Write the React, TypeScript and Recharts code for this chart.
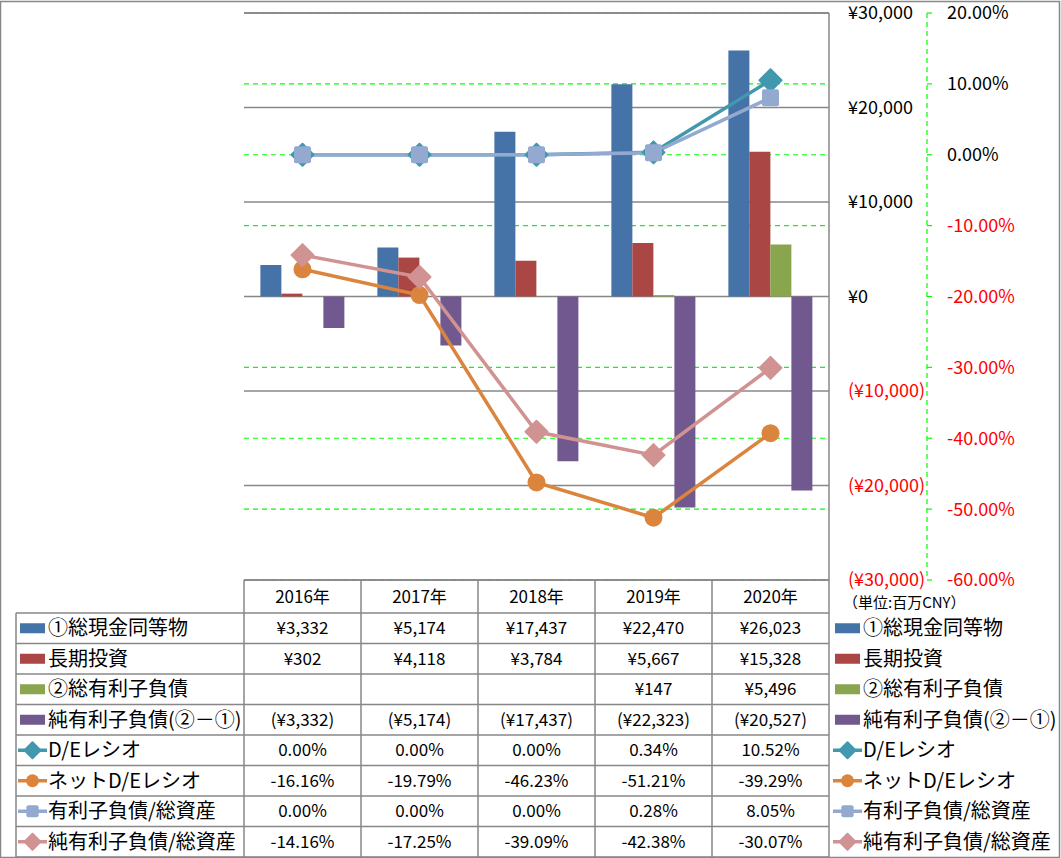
import React from 'react';
import { ComposedChart, Bar, Line, XAxis, YAxis, CartesianGrid } from 'recharts';

const categories = ['2016年', '2017年', '2018年', '2019年', '2020年'];
const cash = [3332, 5174, 17437, 22470, 26023];
const ltInvest = [302, 4118, 3784, 5667, 15328];
const debt: (number | null)[] = [null, null, null, 147, 5496];
const netDebt = [-3332, -5174, -17437, -22323, -20527];
const deRatio = [0, 0, 0, 0.34, 10.52];
const netDeRatio = [-16.16, -19.79, -46.23, -51.21, -39.29];
const debtToAssets = [0, 0, 0, 0.28, 8.05];
const netDebtToAssets = [-14.16, -17.25, -39.09, -42.38, -30.07];

const yenTicks = [30000, 20000, 10000, 0, -10000, -20000, -30000];
const pctTicks = [20, 10, 0, -10, -20, -30, -40, -50, -60];

const seriesNames = [
  '①総現金同等物',
  '長期投資',
  '②総有利子負債',
  '純有利子負債(②－①)',
  'D/Eレシオ',
  'ネットD/Eレシオ',
  '有利子負債/総資産',
  '純有利子負債/総資産',
];
const unitLabel = '（単位:百万CNY）';

const COLORS = ['#4572A7', '#AA4643', '#89A54E', '#71588F', '#4198AF', '#DB843D', '#93A9CF', '#D19392'];
const MARKERS = ['diamond', 'circle', 'square', 'diamond'];
const GRAY = '#878787';
const FONT = '"Noto Sans CJK JP", "Noto Sans", sans-serif';

const data = categories.map((c, i) => ({
  cat: c,
  cash: cash[i],
  lt: ltInvest[i],
  debt: debt[i],
  net: netDebt[i],
  de: deRatio[i],
  nde: netDeRatio[i],
  dta: debtToAssets[i],
  ndta: netDebtToAssets[i],
}));

const fmtYen = (v: number | null) => {
  if (v === null || v === undefined) return '';
  const s = Math.abs(v).toLocaleString('en-US');
  return v < 0 ? `(¥${s})` : `¥${s}`;
};
const fmtPct = (v: number) => `${v.toFixed(2)}%`;

const tableRows: string[][] = [
  cash.map(fmtYen),
  ltInvest.map(fmtYen),
  debt.map(fmtYen),
  netDebt.map(fmtYen),
  deRatio.map(fmtPct),
  netDeRatio.map(fmtPct),
  debtToAssets.map(fmtPct),
  netDebtToAssets.map(fmtPct),
];

function Marker({ kind, cx, cy, color, s }: { kind: string; cx: number; cy: number; color: string; s: number }) {
  if (kind === 'diamond') {
    const h = 11 * s;
    return (
      <polygon
        points={`${cx},${cy - h} ${cx + h},${cy} ${cx},${cy + h} ${cx - h},${cy}`}
        fill={color}
        stroke={color}
        strokeWidth={2}
        strokeLinejoin="round"
      />
    );
  }
  if (kind === 'circle') {
    return <circle cx={cx} cy={cy} r={9 * s} fill={color} />;
  }
  const w = 17 * s;
  return <rect x={cx - w / 2} y={cy - w / 2} width={w} height={w} rx={2} fill={color} />;
}

const makeDot = (kind: string, color: string) => (props: any) => {
  const { cx, cy, index } = props;
  if (cx == null || cy == null) return <g key={`d${index}`} />;
  return (
    <g key={`d${index}`}>
      <Marker kind={kind} cx={cx} cy={cy} color={color} s={1} />
    </g>
  );
};

const YenTick = (props: any) => {
  const { x, y, payload } = props;
  const v = payload.value as number;
  return (
    <text x={x} y={y} dy="0.36em" textAnchor="start" fontSize={18} fontFamily={FONT} fill={v < 0 ? '#FF0000' : '#000'}>
      {fmtYen(v)}
    </text>
  );
};
const PctTick = (props: any) => {
  const { x, y, payload } = props;
  const v = payload.value as number;
  return (
    <text x={x} y={y} dy="0.36em" textAnchor="start" fontSize={18} fontFamily={FONT} fill={v < 0 ? '#FF0000' : '#000'}>
      {fmtPct(v)}
    </text>
  );
};

const PLOT_L = 244;
const PLOT_R = 829;
const PLOT_T = 13;
const TABLE_TOP = 580;
const HEADER_BOTTOM = 613;
const ROW_H = 30.5;
const COL_W = (PLOT_R - PLOT_L) / categories.length;
const LABEL_FS = 20;

function LegendKey({ idx, x, cy }: { idx: number; x: number; cy: number }) {
  const color = COLORS[idx];
  if (idx < 4) {
    return <rect x={x} y={cy - 5} width={25} height={10} fill={color} />;
  }
  const kind = MARKERS[idx - 4];
  return (
    <g>
      <line x1={x - 2} x2={x + 27} y1={cy} y2={cy} stroke={color} strokeWidth={3.5} />
      <Marker kind={kind} cx={x + 12.5} cy={cy} color={color} s={0.72} />
    </g>
  );
}

function TableOverlay() {
  const rowTop = (i: number) => HEADER_BOTTOM + i * ROW_H;
  const bottom = rowTop(8);
  return (
    <svg width={1061} height={858} style={{ position: 'absolute', left: 0, top: 0, pointerEvents: 'none' }}>
      <rect x={0.5} y={1.5} width={1059} height={856} fill="none" stroke={GRAY} strokeWidth={1.5} />
      <line x1={PLOT_L} x2={PLOT_R} y1={PLOT_T} y2={PLOT_T} stroke={GRAY} strokeWidth={1.5} />
      <line x1={PLOT_L} x2={PLOT_R} y1={TABLE_TOP} y2={TABLE_TOP} stroke={GRAY} strokeWidth={1.5} />
      {Array.from({ length: 9 }).map((_, i) => (
        <line key={`h${i}`} x1={16} x2={PLOT_R} y1={rowTop(i)} y2={rowTop(i)} stroke={GRAY} strokeWidth={1.5} />
      ))}
      <line x1={16} x2={16} y1={HEADER_BOTTOM} y2={bottom} stroke={GRAY} strokeWidth={1.5} />
      {Array.from({ length: categories.length + 1 }).map((_, i) => (
        <line
          key={`v${i}`}
          x1={PLOT_L + i * COL_W}
          x2={PLOT_L + i * COL_W}
          y1={TABLE_TOP}
          y2={bottom}
          stroke={GRAY}
          strokeWidth={1.5}
        />
      ))}
      {categories.map((c, i) => (
        <text
          key={`c${i}`}
          x={PLOT_L + (i + 0.5) * COL_W}
          y={(TABLE_TOP + HEADER_BOTTOM) / 2}
          dy="0.36em"
          textAnchor="middle"
          fontSize={17}
          fontFamily={FONT}
          fill="#000"
        >
          {c}
        </text>
      ))}
      {tableRows.map((row, r) => {
        const cy = rowTop(r) + ROW_H / 2;
        return (
          <g key={`r${r}`}>
            <LegendKey idx={r} x={20} cy={cy} />
            <text x={48} y={cy} dy="0.36em" fontSize={LABEL_FS} fontFamily={FONT} fill="#000">
              {seriesNames[r]}
            </text>
            {row.map((t, i) => (
              <text
                key={`t${i}`}
                x={PLOT_L + (i + 0.5) * COL_W}
                y={cy}
                dy="0.36em"
                textAnchor="middle"
                fontSize={17}
                fontFamily={FONT}
                fill="#000"
              >
                {t}
              </text>
            ))}
            <LegendKey idx={r} x={835} cy={cy} />
            <text x={863} y={cy} dy="0.36em" fontSize={LABEL_FS} fontFamily={FONT} fill="#000">
              {seriesNames[r]}
            </text>
          </g>
        );
      })}
      <text x={843} y={603} dy="0.36em" fontSize={15} fontFamily={FONT} fill="#000">
        {unitLabel}
      </text>
    </svg>
  );
}

export default function App() {
  return (
    <div style={{ position: 'absolute', left: 0, top: 0, width: 1061, height: 858, background: '#fff' }}>
      <ComposedChart
        width={1061}
        height={858}
        data={data}
        margin={{ top: PLOT_T, right: 0, bottom: 278, left: PLOT_L }}
        barCategoryGap="14%"
        barGap={0}
      >
        <CartesianGrid
          yAxisId="b"
          vertical={false}
          stroke="#00FF00"
          strokeDasharray="5 4"
          strokeWidth={1.2}
        />
        <CartesianGrid yAxisId="a" vertical={false} stroke={GRAY} strokeWidth={1.5} />
        <XAxis dataKey="cat" hide />
        <YAxis
          yAxisId="b"
          orientation="right"
          width={134}
          domain={[-60, 20]}
          ticks={pctTicks}
          interval={0}
          axisLine={{ stroke: '#00FF00', strokeDasharray: '5 4', strokeWidth: 1.2 }}
          tickLine={{ stroke: '#00FF00', strokeWidth: 1.2 }}
          tickSize={5}
          tickMargin={15}
          tick={<PctTick />}
        />
        <YAxis
          yAxisId="a"
          orientation="right"
          width={98}
          domain={[-30000, 30000]}
          ticks={yenTicks}
          interval={0}
          axisLine={{ stroke: GRAY, strokeWidth: 1.5 }}
          tickLine={false}
          tickSize={0}
          tickMargin={19}
          tick={<YenTick />}
        />
        <Bar yAxisId="a" dataKey="cash" fill={COLORS[0]} isAnimationActive={false} />
        <Bar yAxisId="a" dataKey="lt" fill={COLORS[1]} isAnimationActive={false} />
        <Bar yAxisId="a" dataKey="debt" fill={COLORS[2]} isAnimationActive={false} />
        <Bar yAxisId="a" dataKey="net" fill={COLORS[3]} isAnimationActive={false} />
        <Line
          yAxisId="b"
          dataKey="de"
          stroke={COLORS[4]}
          strokeWidth={3.5}
          dot={makeDot('diamond', COLORS[4])}
          activeDot={false}
          isAnimationActive={false}
        />
        <Line
          yAxisId="b"
          dataKey="nde"
          stroke={COLORS[5]}
          strokeWidth={3.5}
          dot={makeDot('circle', COLORS[5])}
          activeDot={false}
          isAnimationActive={false}
        />
        <Line
          yAxisId="b"
          dataKey="dta"
          stroke={COLORS[6]}
          strokeWidth={3.5}
          dot={makeDot('square', COLORS[6])}
          activeDot={false}
          isAnimationActive={false}
        />
        <Line
          yAxisId="b"
          dataKey="ndta"
          stroke={COLORS[7]}
          strokeWidth={3.5}
          dot={makeDot('diamond', COLORS[7])}
          activeDot={false}
          isAnimationActive={false}
        />
      </ComposedChart>
      <TableOverlay />
    </div>
  );
}
